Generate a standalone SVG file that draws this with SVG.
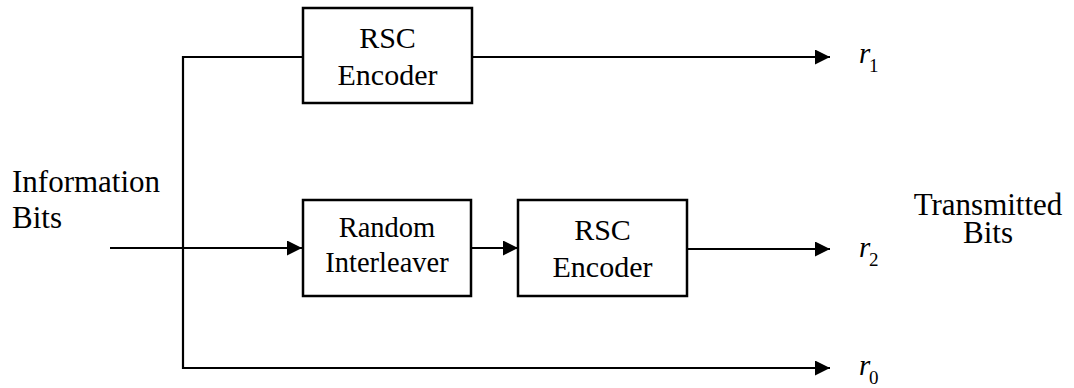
<svg xmlns="http://www.w3.org/2000/svg" width="1074" height="388" viewBox="0 0 1074 388">
<style>
.box{fill:#fff;stroke:#000;stroke-width:2.5}
.ln{fill:none;stroke:#000;stroke-width:2.2}
.t{font-family:'Liberation Serif','DejaVu Serif',serif;fill:#000}
.m{font-family:'Liberation Serif','DejaVu Serif',serif;font-style:italic;fill:#000}
.s{font-family:'Liberation Serif','DejaVu Serif',serif;fill:#000}
</style>
<defs>
<marker id="ah" markerUnits="userSpaceOnUse" markerWidth="16" markerHeight="16" refX="15" refY="7.5" orient="auto">
<path d="M0,0 L15,7.5 L0,15 Z" fill="#000"/>
</marker>
</defs>
<rect width="1074" height="388" fill="#fff"/>
<g id="connectors">
<path class="ln" d="M303,57 H183 V368 H830" marker-end="url(#ah)"/>
<path class="ln" d="M472,57 H830" marker-end="url(#ah)"/>
<path class="ln" d="M110,248 H302" marker-end="url(#ah)"/>
<path class="ln" d="M471,248 H518" marker-end="url(#ah)"/>
<path class="ln" d="M687,249 H830" marker-end="url(#ah)"/>
</g>
<g id="rsc1">
<rect class="box" x="303" y="8" width="169" height="95"/>
<text class="t" x="387.5" y="48" font-size="30" text-anchor="middle" font-family="Liberation Serif, serif">RSC</text>
<text class="t" x="387.5" y="85" font-size="30" text-anchor="middle" font-family="Liberation Serif, serif">Encoder</text>
</g>
<g id="interleaver">
<rect class="box" x="303" y="200" width="168" height="96"/>
<text class="t" x="387" y="237" font-size="28.5" text-anchor="middle">Random</text>
<text class="t" x="387" y="272" font-size="28.5" text-anchor="middle">Interleaver</text>
</g>
<g id="rsc2">
<rect class="box" x="518" y="200" width="169" height="96"/>
<text class="t" x="602.5" y="240" font-size="30" text-anchor="middle">RSC</text>
<text class="t" x="602.5" y="277" font-size="30" text-anchor="middle">Encoder</text>
</g>
<g id="input">
<text class="t" x="12" y="192" font-size="31">Information</text>
<text class="t" x="12" y="228" font-size="31">Bits</text>
</g>
<g id="output">
<text class="t" x="988" y="215" font-size="31" text-anchor="middle">Transmitted</text>
<text class="t" x="988" y="243" font-size="31" text-anchor="middle">Bits</text>
</g>
<g id="r1"><text class="m" x="859" y="63" font-size="29">r</text><text class="s" x="869" y="72" font-size="19">1</text></g>
<g id="r2"><text class="m" x="859" y="257" font-size="29">r</text><text class="s" x="869" y="266" font-size="19">2</text></g>
<g id="r0"><text class="m" x="859" y="375" font-size="29">r</text><text class="s" x="869" y="384" font-size="19">0</text></g>
</svg>
